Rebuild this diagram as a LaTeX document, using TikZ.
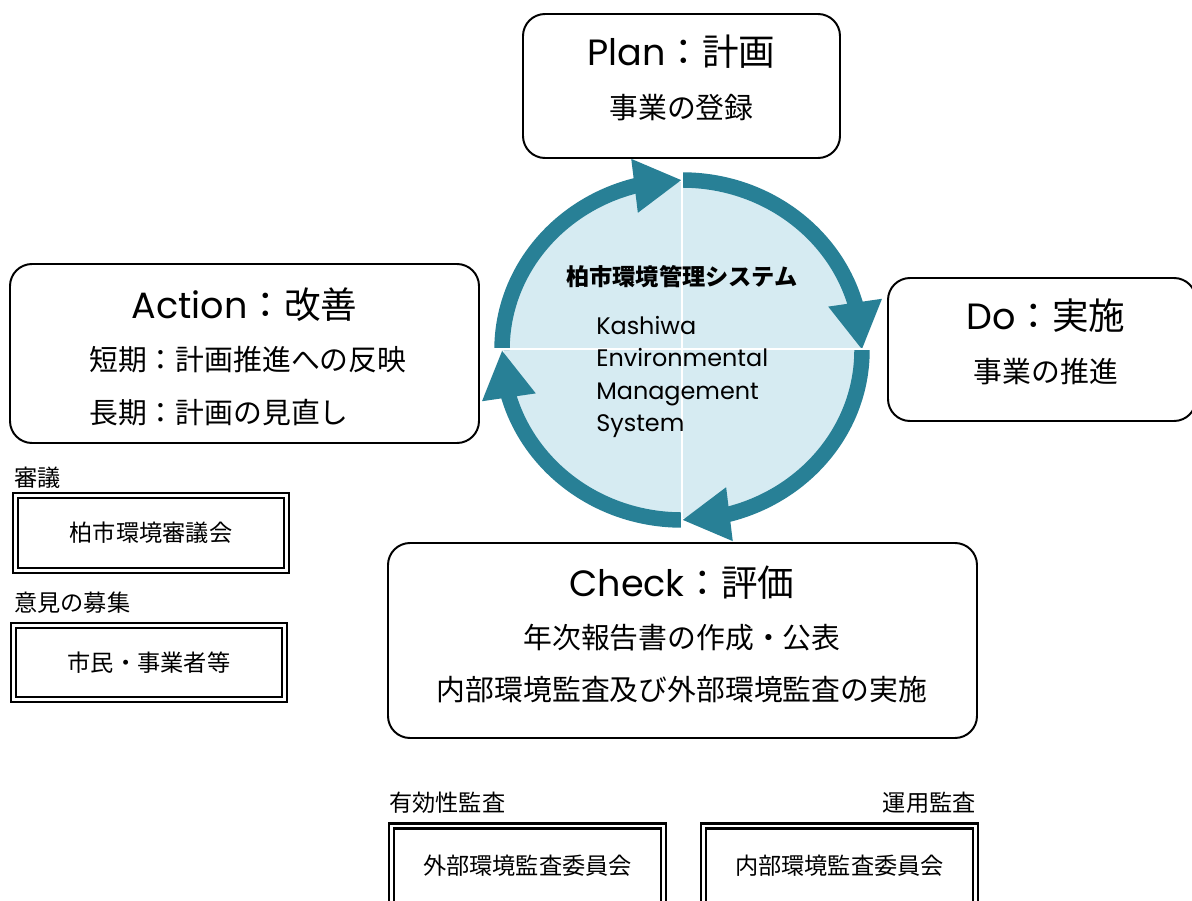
\documentclass[tikz,border=0pt]{standalone}
\usepackage{fontspec}
\setmainfont{Poppins}
\newfontfamily\jp{Noto Sans CJK JP}
\usepackage{tikz}
\usetikzlibrary{arrows.meta,bending}
\definecolor{ringblue}{RGB}{40,128,150}
\definecolor{paleblue}{RGB}{214,235,242}
\newcommand{\px}{0.025cm}
\newcommand{\titlesize}{\fontsize{26}{30}\selectfont}
\newcommand{\subsize}{\fontsize{20.5}{24}\selectfont}
\newcommand{\orgsize}{\fontsize{16.5}{20}\selectfont}

\tikzset{
  stagebox/.style={draw, line width=1.4pt, rounded corners=0.55cm, fill=white},
  orgbox/.style={draw, line width=1.8pt, double=white, double distance=1.6pt},
  ring/.style={ringblue, line width=11pt, -{Triangle[length=34pt,width=36pt,flex]}},
  txt/.style={inner sep=0pt},
  lab/.style={inner sep=0pt, font=\orgsize\jp},
}

\begin{document}
\begin{tikzpicture}[x=\px, y=-\px]
  \useasboundingbox (0,0) rectangle (1192,901);
  \clip (0,0) rectangle (1192,901);

  % PDCA cycle
  \coordinate (c) at (682,350);
  \fill[paleblue] (c) ellipse [x radius=178, y radius=168];
  \foreach \a in {-90,0,90,180}
    \draw[ring] (c) ++(\a:180 and 170) arc[start angle=\a, delta angle=90, x radius=180, y radius=170];
  \draw[white, line width=1.2pt] (682,168) -- (682,532);
  \draw[white, line width=1.2pt] (492,349) -- (872,349);

  \node[txt, font=\orgsize\jp\bfseries] (systitle) at (682,277) {柏市環境管理システム};
  \node[txt, anchor=west, align=left, font=\fontsize{17}{22.8}\selectfont] (sysname) at (596,377)
    {Kashiwa\\Environmental\\Management\\System};

  % stages
  \node[stagebox, minimum width={317*\px}, minimum height={144*\px}] (plan) at (681.5,86) {};
  \node[txt] (plant) at (681.5,52) {\titlesize Plan{\jp：計画}};
  \node[txt] (plans) at (681.5,108) {\subsize\jp 事業の登録};

  \node[stagebox, minimum width={308*\px}, minimum height={143*\px}] (do) at (1042,349.5) {};
  \node[txt] (dot) at (1046,316) {\titlesize Do{\jp：実施}};
  \node[txt] (dos) at (1046,372) {\subsize\jp 事業の推進};

  \node[stagebox, minimum width={469*\px}, minimum height={179*\px}] (act) at (244.5,353.5) {};
  \node[txt] (actt) at (244.5,305) {\titlesize Action{\jp：改善}};
  \node[txt, anchor=west] (acts) at (89,360) {\subsize\jp 短期：計画推進への反映};
  \node[txt, anchor=west] (actl) at (89,413) {\subsize\jp 長期：計画の見直し};

  \node[stagebox, minimum width={589*\px}, minimum height={195*\px}] (check) at (682.5,640.5) {};
  \node[txt] (checkt) at (682,583) {\titlesize Check{\jp：評価}};
  \node[txt] (checka) at (682,638) {\subsize\jp 年次報告書の作成・公表};
  \node[txt] (checkb) at (682,690) {\subsize\jp 内部環境監査及び外部環境監査の実施};

  % organisations
  \node[lab, anchor=west] (shingi) at (14,478) {審議};
  \node[orgbox, minimum width={271*\px}, minimum height={75*\px}, font=\orgsize\jp] (council) at (151,533) {柏市環境審議会};
  \node[lab, anchor=west] (iken) at (14,603) {意見の募集};
  \node[orgbox, minimum width={271*\px}, minimum height={74*\px}, font=\orgsize\jp] (citizen) at (149,662.5) {市民・事業者等};
  \node[lab, anchor=west] (yuko) at (389,803) {有効性監査};
  \node[orgbox, minimum width={272*\px}, minimum height={80*\px}, font=\orgsize\jp] (extaudit) at (527.5,866) {外部環境監査委員会};
  \node[lab, anchor=east] (unyo) at (976,803) {運用監査};
  \node[orgbox, minimum width={272*\px}, minimum height={80*\px}, font=\orgsize\jp] (intaudit) at (839.5,866) {内部環境監査委員会};
\end{tikzpicture}
\end{document}
